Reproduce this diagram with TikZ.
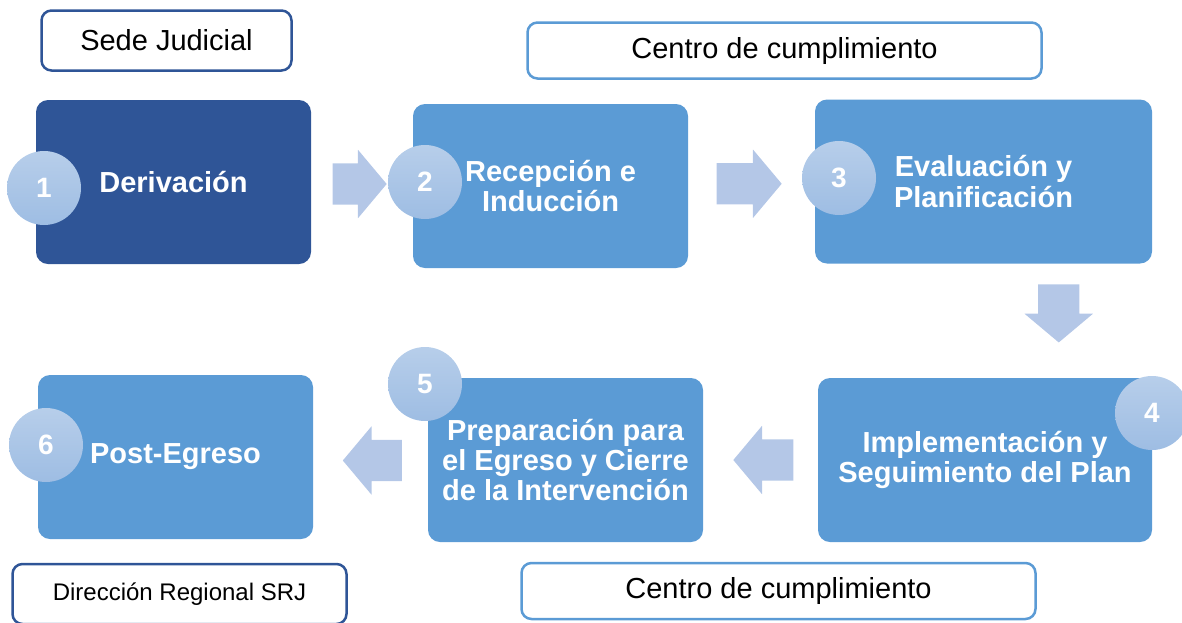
\documentclass[tikz,border=0pt]{standalone}
\usepackage{fontspec}
\setmainfont{Liberation Sans}
\usetikzlibrary{positioning, calc, shapes.arrows}

\definecolor{azulOscuro}{HTML}{2F5597}
\definecolor{azulMedio}{HTML}{5B9BD5}
\definecolor{azulFlecha}{HTML}{B4C7E7}
\definecolor{circArriba}{HTML}{B7CEEA}
\definecolor{circAbajo}{HTML}{9EBDE3}

\begin{document}
\begin{tikzpicture}[
        x=1pt, y=-1pt,
        % --- ESTILOS ---
        etapa/.style={
                fill=azulMedio,
                rounded corners=12pt,
                text=white,
                align=center,
                inner sep=0pt,
                minimum width=275pt,
                minimum height=164pt,
                font=\bfseries\fontsize{29}{30}\selectfont
            },
        nro/.style={
                circle,
                top color=circArriba,
                bottom color=circAbajo,
                text=white,
                minimum size=74pt,
                inner sep=0pt,
                font=\bfseries\fontsize{28}{30}\selectfont
            },
        lugar/.style={
                draw=azulOscuro,
                line width=2.5pt,
                fill=white,
                rounded corners=10pt,
                inner sep=0pt,
                minimum height=60pt,
                font=\fontsize{29}{30}\selectfont
            },
        flecha/.style={
                single arrow,
                fill=azulFlecha,
                inner xsep=0pt,
                inner ysep=20.5pt,
                single arrow head extend=13.5pt,
                single arrow tip angle=100
            }
    ]

    \useasboundingbox (0,0) rectangle (1182,622);
    \clip (0,0) rectangle (1182,622);

    % 1. Etapas
    \node[etapa, fill=azulOscuro] (deriv) at (173.5,182) {Derivación};
    \node[etapa] (recep) at (550.5,186) {Recepción e\\Inducción};
    \node[etapa, minimum width=337pt] (evalua) at (983.5,181.5) {Evaluación y\\Planificación};
    \node[etapa, minimum width=334pt] (implem) at (985,460) {Implementación y\\Seguimiento del Plan};
    \node[etapa] (prepa) at (565.5,460) {Preparación para\\el Egreso y Cierre\\de la Intervención};
    \node[etapa] (post) at (175.5,457) {Post-Egreso};

    % 2. Numeros
    \node[nro] (n1) at (44,188) {1};
    \node[nro] (n2) at (425,182) {2};
    \node[nro] (n3) at (839,178) {3};
    \node[nro] (n4) at (1152,413) {4};
    \node[nro] (n5) at (425,384) {5};
    \node[nro] (n6) at (46,445) {6};

    % 3. Flechas entre etapas
    \node[flecha, minimum height=54pt] (f12) at ($(deriv.east)!0.5!(recep.west)+(-11,0)$) {};
    \node[flecha, minimum height=65pt] (f23) at ($(recep.east)!0.5!(evalua.west)+(-11,0)$) {};
    \node[flecha, minimum height=58pt, rotate=-90] (f34) at ($(evalua.south)!0.5!(implem.north)+(74.5,-16)$) {};
    \node[flecha, minimum height=60pt, rotate=180] (f45) at ($(prepa.east)!0.5!(implem.west)+(11.5,0)$) {};
    \node[flecha, minimum height=59pt, rotate=180] (f56) at ($(post.east)!0.5!(prepa.west)+(10.5,2)$) {};

    % 4. Responsables
    \node[lugar, minimum width=250pt] (sede) at (166.5,40.5) {Sede Judicial};
    \node[lugar, draw=azulMedio, minimum width=514pt, minimum height=56pt] (centroA) at (784.5,50.5) {Centro de cumplimiento};
    \node[lugar, draw=azulMedio, minimum width=514pt, minimum height=56pt] (centroB) at (778.5,591) {Centro de cumplimiento};
    \node[lugar, minimum width=334pt, font=\fontsize{24}{26}\selectfont] (direc) at (179.5,594) {Dirección Regional SRJ};

\end{tikzpicture}
\end{document}
